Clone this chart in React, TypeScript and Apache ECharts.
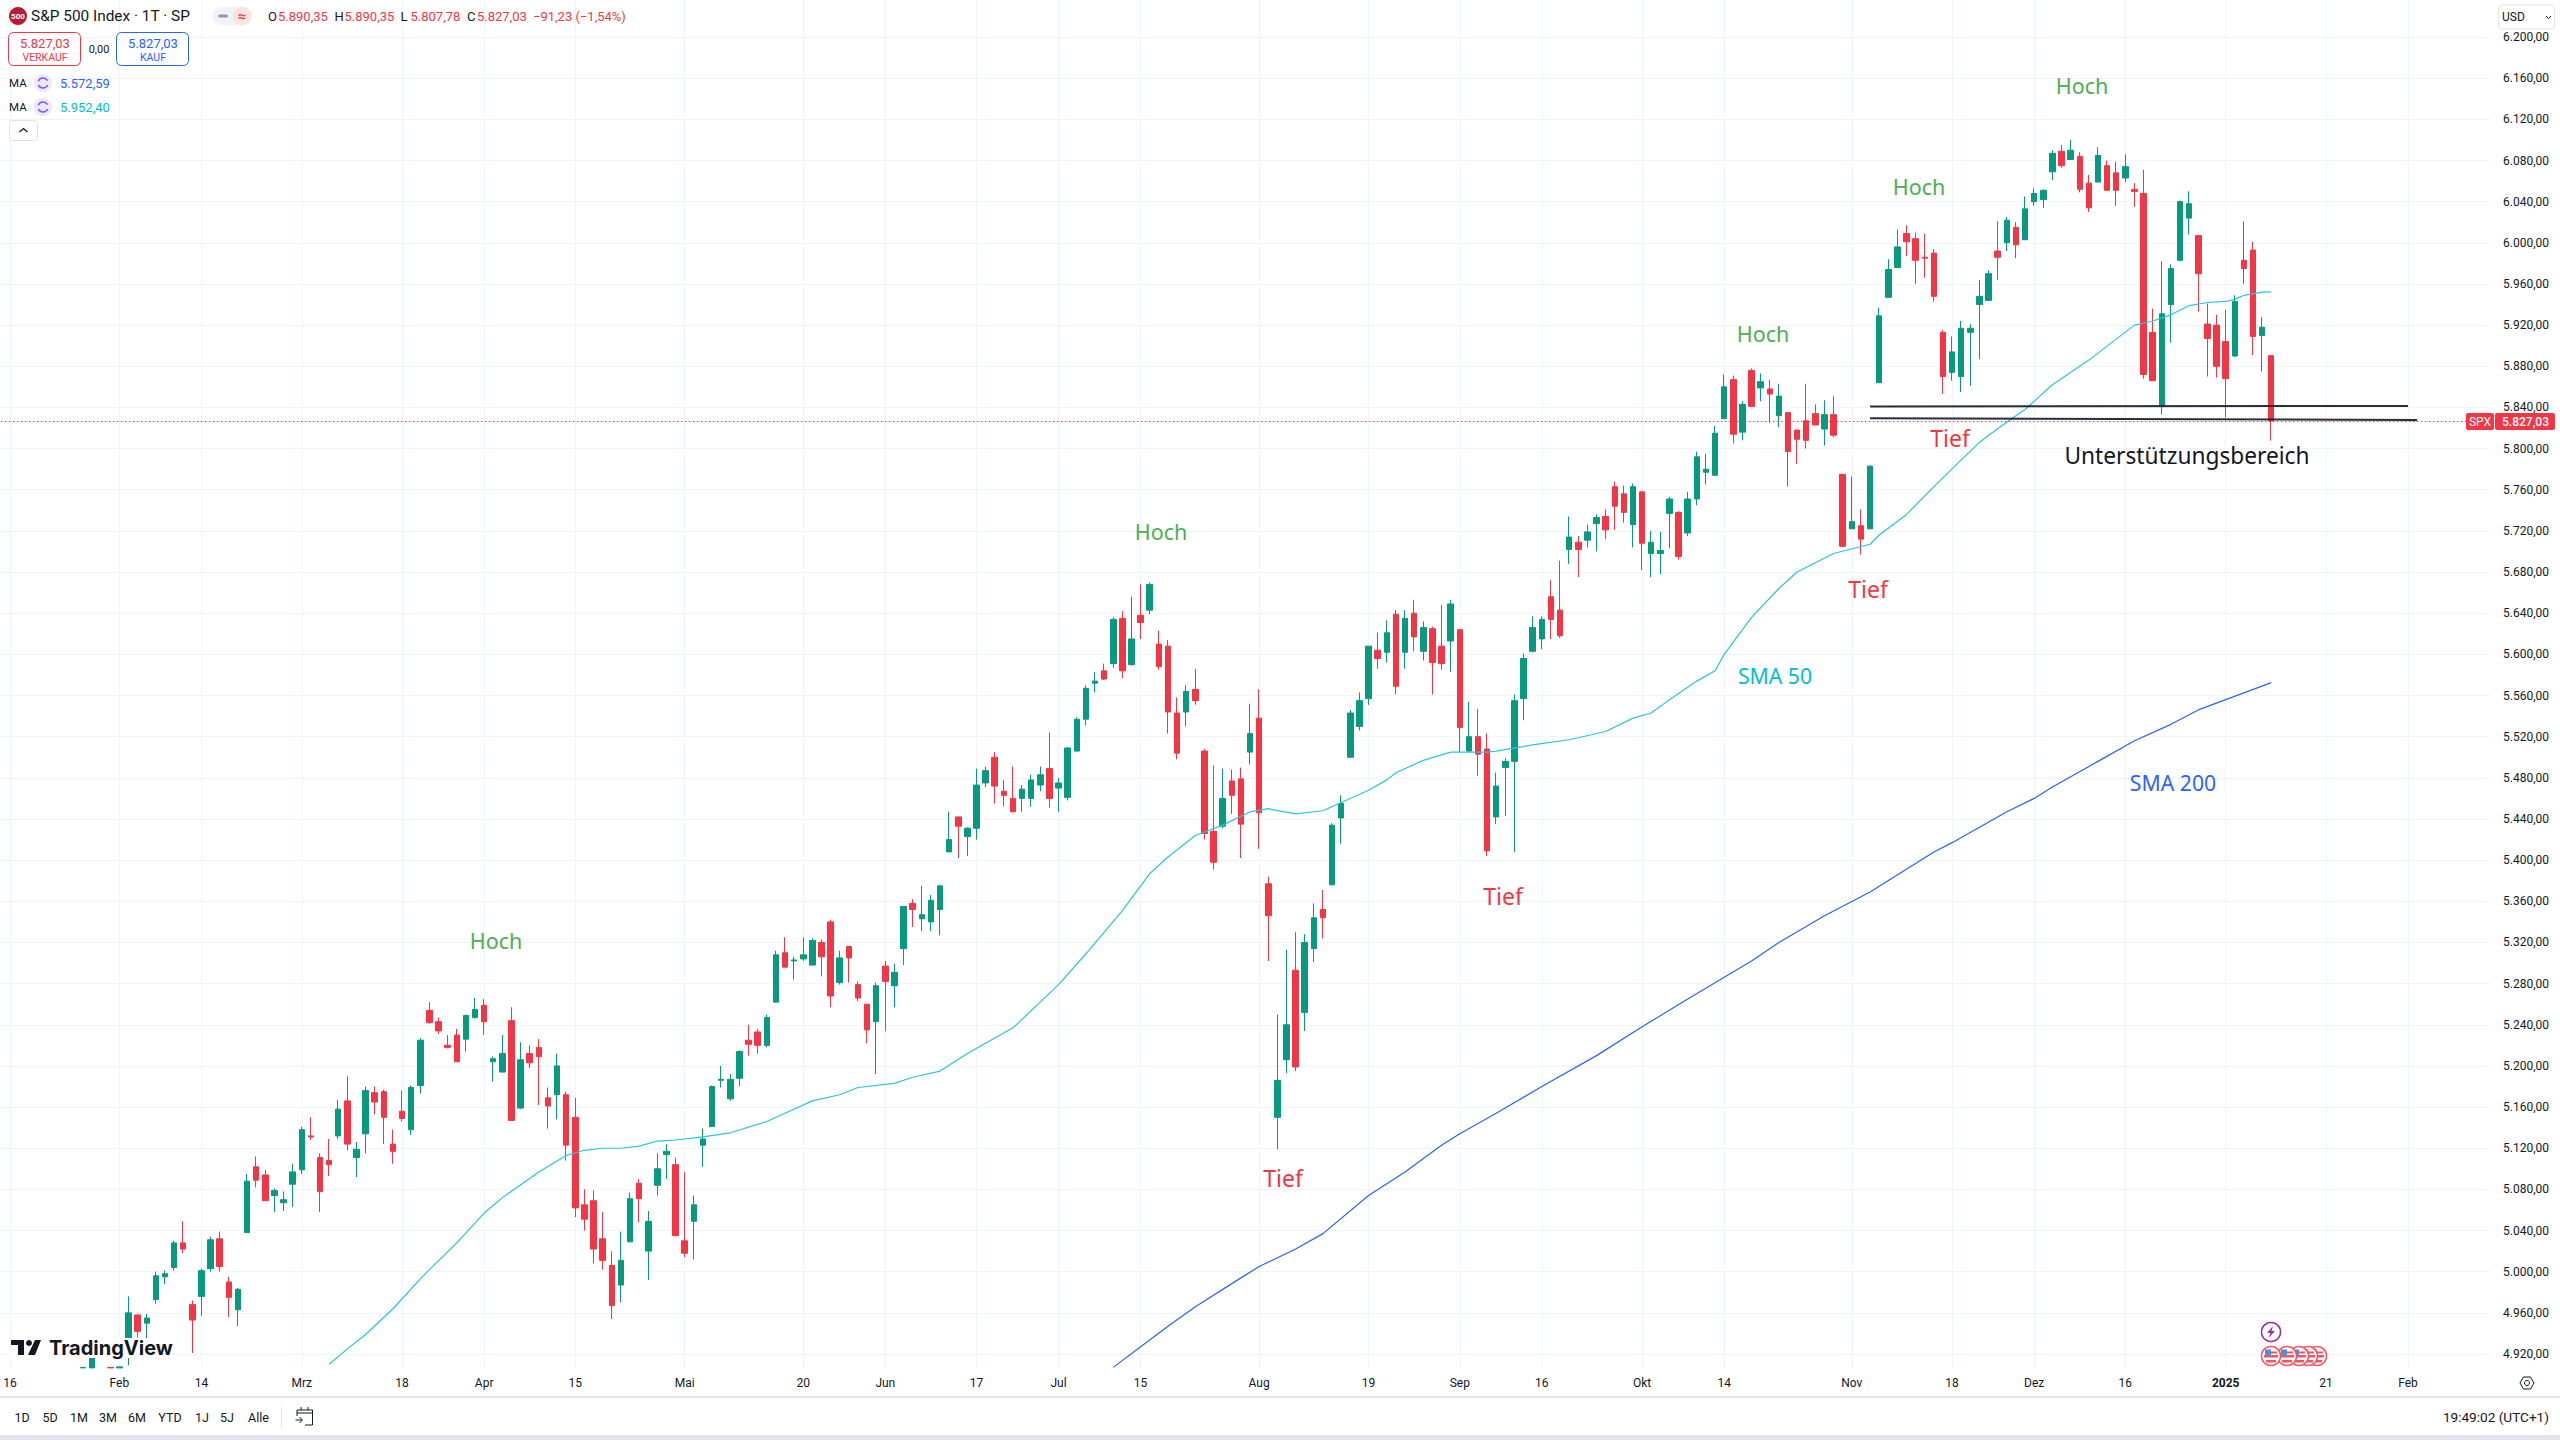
import React, { useEffect, useRef } from "react";
import * as echarts from "echarts";

const tradingDays: [string, number[]][] = [
  ["2024-01", [12,16,17,18,19,22,23,24,25,26,29,30,31]],
  ["2024-02", [1,2,5,6,7,8,9,12,13,14,15,16,20,21,22,23,26,27,28,29]],
  ["2024-03", [1,4,5,6,7,8,11,12,13,14,15,18,19,20,21,22,25,26,27,28]],
  ["2024-04", [1,2,3,4,5,8,9,10,11,12,15,16,17,18,19,22,23,24,25,26,29,30]],
  ["2024-05", [1,2,3,6,7,8,9,10,13,14,15,16,17,20,21,22,23,24,28,29,30,31]],
  ["2024-06", [3,4,5,6,7,10,11,12,13,14,17,18,20,21,24,25,26,27,28]],
  ["2024-07", [1,2,3,5,8,9,10,11,12,15,16,17,18,19,22,23,24,25,26,29,30,31]],
  ["2024-08", [1,2,5,6,7,8,9,12,13,14,15,16,19,20,21,22,23,26,27,28,29,30]],
  ["2024-09", [3,4,5,6,9,10,11,12,13,16,17,18,19,20,23,24,25,26,27,30]],
  ["2024-10", [1,2,3,4,7,8,9,10,11,14,15,16,17,18,21,22,23,24,25,28,29,30,31]],
  ["2024-11", [1,4,5,6,7,8,11,12,13,14,15,18,19,20,21,22,25,26,27,29]],
  ["2024-12", [2,3,4,5,6,9,10,11,12,13,16,17,18,19,20,23,24,26,27,30,31]],
  ["2025-01", [2,3,6,7,8,10,13,14,15,16,17,21,22,23,24,27,28,29,30,31]],
  ["2025-02", [3,4,5,6,7,10,11,12,13,14]],
];
const categories: string[] = tradingDays.flatMap(([m, ds]) =>
  ds.map((d) => `${m}-${String(d).padStart(2, "0")}`)
);

const xTickLabels: Record<string, string> = {
  "2024-01-16": "16", "2024-02-01": "Feb", "2024-02-14": "14", "2024-03-01": "Mrz",
  "2024-03-18": "18", "2024-04-01": "Apr", "2024-04-15": "15", "2024-05-01": "Mai",
  "2024-05-20": "20", "2024-06-03": "Jun", "2024-06-17": "17", "2024-07-01": "Jul",
  "2024-07-15": "15", "2024-08-01": "Aug", "2024-08-19": "19", "2024-09-03": "Sep",
  "2024-09-16": "16", "2024-10-01": "Okt", "2024-10-14": "14", "2024-11-01": "Nov",
  "2024-11-18": "18", "2024-12-02": "Dez", "2024-12-16": "16", "2025-01-02": "2025",
  "2025-01-21": "21", "2025-02-03": "Feb",
};

const yTicks: number[] = [
  4920,4960,5000,5040,5080,5120,5160,5200,5240,5280,5320,5360,5400,5440,5480,5520,5560,5600,
  5640,5680,5720,5760,5800,5840,5880,5920,5960,6000,6040,6080,6120,6160,6200,
];

const E: any = ["-", "-", "-", "-"];
const offscreenBars = [E, E, E, E, E, E, E, E, E];

// open, close, low, high (bars cut by the bottom edge carry only the part that can be read)
const ohlc: any[] = [
  ...offscreenBars,
  [4906.5,4907,4906.5,4907],[4906.5,4927,4906.5,4931],[4925,4924,4917,4931],[4907,4906.5,4906.5,4907],[4906.5,4907.5,4906.5,4907.5],
  [4917,4960,4909,4976],[4958,4942,4936,4958],[4950,4955,4935,4959],[4973,4996,4969,5000],[4995,4998,4988,5001],
  [5004,5028,5001,5030],[5028,5022,5018,5049],[4968,4953,4921,4972],[4976,5001,4957,5003],[5003,5031,5000,5034],
  [5032,5005,5000,5039],[4990,4975,4956,4995],[4963,4983,4947,4984],[5038,5088,5038,5095],[5102,5089,5082,5112],
  [5094,5069,5069,5099],[5074,5079,5058,5081],[5067,5070,5059,5078],[5085,5097,5063,5105],[5099,5138,5095,5141],
  [5132,5131,5128,5150],[5111,5078,5058,5115],[5108,5104,5093,5129],[5132,5158,5129,5167],[5166,5124,5118,5190],
  [5111,5119,5092,5126],[5134,5176,5115,5180],[5174,5165,5153,5180],[5175,5150,5124,5177],[5124,5117,5105,5138],
  [5156,5149,5146,5176],[5138,5179,5133,5181],[5181,5225,5173,5227],[5254,5242,5241,5262],[5243,5234,5231,5247],
  [5220,5218,5217,5230],[5230,5204,5204,5236],[5226,5249,5214,5250],[5247,5255,5246,5266],[5259,5243,5230,5265],
  [5204,5207,5185,5209],[5194,5212,5194,5230],[5244,5147,5147,5257],[5159,5206,5158,5223],[5212,5203,5198,5220],
  [5218,5209,5162,5226],[5169,5161,5139,5179],[5172,5200,5148,5212],[5172,5123,5108,5175],[5150,5062,5053,5169],
  [5065,5051,5040,5080],[5069,5022,5008,5079],[5032,5011,5002,5058],[5006,4967,4954,5020],[4987,5011,4970,5039],
  [5029,5071,5029,5077],[5086,5071,5048,5090],[5020,5049,4992,5059],[5084,5100,5074,5115],[5114,5117,5090,5124],
  [5104,5035,5035,5111],[5030,5018,5014,5097],[5049,5065,5012,5074],[5123,5129,5102,5139],[5141,5180,5141,5181],
  [5186,5187,5179,5200],[5168,5187,5166,5192],[5188,5214,5180,5215],[5225,5221,5210,5240],[5233,5220,5212,5236],
  [5220,5247,5218,5250],[5262,5308,5262,5312],[5310,5296,5296,5325],[5302,5303,5284,5306],[5304,5308,5302,5325],
  [5298,5322,5298,5324],[5320,5306,5287,5323],[5340,5268,5257,5342],[5281,5305,5279,5312],[5316,5305,5281,5316],
  [5279,5266,5263,5282],[5260,5235,5222,5260],[5243,5278,5192,5281],[5297,5282,5234,5302],[5278,5291,5257,5299],
  [5314,5355,5298,5355],[5358,5352,5335,5362],[5343,5347,5331,5375],[5340,5361,5331,5366],[5352,5375,5327,5376],
  [5408,5420,5408,5447],[5442,5433,5402,5442],[5423,5431,5404,5432],[5431,5473,5420,5489],[5475,5487,5471,5491],
  [5500,5472,5455,5505],[5467,5463,5452,5478],[5460,5447,5447,5491],[5460,5469,5447,5473],[5460,5478,5452,5483],
  [5473,5483,5467,5491],[5489,5460,5451,5524],[5470,5475,5447,5480],[5461,5509,5458,5510],[5506,5537,5506,5539],
  [5537,5567,5531,5570],[5572,5574,5563,5583],[5584,5576,5575,5591],[5591,5634,5587,5636],[5635,5584,5577,5642],
  [5590,5615,5589,5656],[5638,5631,5615,5668],[5643,5668,5639,5670],[5610,5588,5585,5623],[5608,5544,5523,5614],
  [5543,5504,5498,5558],[5544,5564,5530,5570],[5566,5555,5551,5586],[5506,5426,5420,5508],[5428,5398,5391,5492],
  [5433,5460,5431,5489],[5477,5463,5445,5488],[5479,5435,5402,5490],[5505,5523,5493,5552],[5538,5446,5411,5566],
  [5377,5346,5302,5384],[5150,5186,5119,5250],[5206,5240,5193,5313],[5293,5199,5195,5330],[5252,5320,5234,5328],
  [5314,5344,5301,5358],[5352,5344,5324,5371],[5376,5434,5376,5436],[5441,5455,5416,5463],[5500,5543,5500,5546],
  [5530,5555,5526,5563],[5557,5608,5551,5608],[5604,5596,5586,5621],[5602,5621,5592,5633],[5639,5569,5561,5643],
  [5602,5635,5586,5643],[5640,5617,5603,5653],[5603,5626,5594,5632],[5625,5592,5561,5627],[5608,5591,5585,5648],
  [5613,5649,5583,5653],[5624,5529,5505,5624],[5506,5520,5505,5554],[5520,5503,5482,5547],[5508,5409,5404,5523],
  [5442,5472,5435,5485],[5490,5496,5443,5499],[5496,5555,5408,5561],[5557,5596,5536,5601],[5603,5626,5602,5637],
  [5615,5634,5605,5637],[5656,5634,5615,5672],[5643,5618,5616,5691],[5702,5714,5688,5734],[5709,5702,5675,5715],
  [5711,5719,5704,5726],[5727,5733,5700,5736],[5734,5721,5712,5741],[5763,5744,5721,5768],[5756,5738,5728,5764],
  [5726,5763,5704,5766],[5758,5708,5682,5758],[5698,5709,5675,5720],[5698,5701,5678,5719],[5737,5751,5703,5753],
  [5738,5695,5692,5739],[5718,5751,5715,5758],[5751,5792,5745,5797],[5777,5780,5765,5795],[5774,5815,5774,5822],
  [5829,5860,5829,5872],[5867,5814,5805,5871],[5816,5843,5808,5846],[5876,5841,5841,5878],[5859,5865,5846,5873],
  [5858,5853,5825,5867],[5832,5851,5821,5863],[5835,5797,5763,5835],[5818,5809,5785,5818],[5827,5808,5800,5863],
  [5834,5823,5823,5843],[5819,5833,5803,5847],[5833,5813,5811,5851],[5775,5705,5704,5775],[5722,5729,5722,5773],
  [5725,5712,5697,5741],[5722,5783,5722,5783],[5864,5929,5864,5937],[5947,5974,5947,5984],[5976,5996,5976,6013],
  [6009,6001,5987,6017],[6004,5983,5960,6010],[5986,5985,5966,6009],[5990,5948,5943,5994],[5913,5870,5853,5915],
  [5874,5894,5866,5909],[5870,5917,5855,5924],[5913,5917,5861,5921],[5940,5948,5887,5964],[5944,5970,5944,5973],
  [5992,5986,5964,6021],[6000,6022,5992,6025],[6015,5998,5985,6020],[6003,6033,6003,6045],[6040,6048,6036,6053],
  [6042,6051,6034,6052],[6069,6087,6061,6090],[6089,6075,6073,6095],[6081,6090,6081,6100],[6084,6052,6049,6088],
  [6058,6034,6030,6066],[6059,6085,6059,6093],[6075,6051,6051,6080],[6068,6051,6036,6079],[6063,6074,6059,6086],
  [6052,6050,6035,6058],[6048,5872,5868,6071],[5913,5866,5866,5936],[5842,5931,5833,5982],[5940,5975,5903,5979],
  [5983,6040,5982,6041],[6024,6038,6008,6050],[6007,5970,5933,6007],[5921,5907,5870,5941],[5920,5880,5869,5930],
  [5904,5868,5830,5935],[5890,5943,5889,5949],[5983,5975,5960,6021],[5993,5909,5891,6001],[5910,5918,5875,5928],
  [5890.35,5827.03,5807.78,5890.35],
];

// [bar number counted from the first labelled bar, value]
const sma50Readings: [number, number][] = [
  [35,4910],[37,4925],[39,4939],[42,4964],[45,4993],[46,5002],[49,5028],[52,5057],[54,5072],[58,5097],
  [61,5113],[63,5118],[65,5120],[67,5120],[69,5122],[71,5127],[73,5128],[76,5131],[79,5135],[83,5146],
  [85,5154],[88,5166],[91,5172],[93,5179],[97,5183],[99,5189],[102,5195],[105,5212],[110,5237],[115,5279],
  [118,5309],[122,5351],[125,5387],[127,5403],[130,5424],[133,5434],[136,5447],[138,5450],[141,5445],[144,5448],
  [146,5456],[149,5468],[151,5478],[152,5485],[155,5497],[158,5505],[162,5505],[163,5506],[167,5512],[171,5517],
  [175,5525],[178,5538],[180,5543],[182,5556],[185,5574],[187,5584],[188,5600],[191,5636],[194,5664],[196,5680],
  [200,5698],[204,5707],[205,5716],[208,5736],[211,5763],[214,5789],[216,5806],[217,5813],[220,5832],[221,5838],
  [224,5862],[228,5886],[233,5920],[235,5924],[237,5930],[239,5939],[241,5942],[243,5943],[244,5945],[245,5949],
  [247,5952],[248,5952.4],
];
const sma200Readings: [number, number][] = [
  [121,4907],[124,4927],[127,4947],[130,4966],[135,4994],[137,5005],[141,5022],[144,5037],[149,5074],[153,5097],
  [157,5123],[159,5134],[163,5154],[168,5180],[174,5210],[179,5238],[184,5265],[191,5302],[194,5320],[199,5346],
  [204,5369],[211,5408],[213,5417],[219,5447],[222,5460],[224,5471],[229,5496],[233,5516],[237,5532],[240,5546],
  [243,5556],[248,5572.59],
];

const upperBandStart = 5841;
const upperBandEnd = 5841.5;
const lowerBandStart = 5829.5;
const lowerBandEnd = 5827.8;
const lastPrice = 5827.03;

const hochLabels = ["Hoch", "Hoch", "Hoch", "Hoch", "Hoch"];
const tiefLabels = ["Tief", "Tief", "Tief", "Tief"];
const periodButtons = ["1D", "5D", "1M", "3M", "6M", "YTD", "1J", "5J", "Alle"];

const UP = "#089981";
const DOWN = "#f23645";
const INK = "#131722";
const FONT = "Roboto, sans-serif";
const NOTE = "'Noto Sans', sans-serif";

const fmt = (v: number) =>
  v.toLocaleString("de-DE", { minimumFractionDigits: 2, maximumFractionDigits: 2 });

const fromReadings = (pts: [number, number][]) => {
  const out: any[] = categories.map(() => "-");
  pts.forEach(([i, v]) => (out[i + 1] = v));
  return out;
};

const txt = (
  text: string, x: number, y: number, size: number, fill: string,
  align: string = "left", weight: number = 400, family: string = FONT
) => ({
  type: "text", z: 50,
  style: { text, x, y, fill, textAlign: align, textVerticalAlign: "middle", font: `${weight} ${size}px ${family}` },
});
const box = (x: number, y: number, width: number, height: number, fill: string, stroke?: string, r = 0) => ({
  type: "rect", z: 40, shape: { x, y, width, height, r },
  style: { fill, stroke: stroke ?? "none", lineWidth: stroke ? 1 : 0 },
});

function buildGraphics() {
  const g: any[] = [];
  // header
  g.push({ type: "circle", z: 40, shape: { cx: 18, cy: 16, r: 9 }, style: { fill: "#b71c32" } });
  g.push(txt("500", 18, 16.5, 8, "#ffffff", "center", 700));
  g.push(txt("S&P 500 Index · 1T · SP", 31, 16, 15.4, INK));
  g.push(box(212, 7, 40, 18, "#f0f3fa", undefined, 9));
  g.push(box(232, 7, 20, 18, "#fde3e6", undefined, 9));
  g.push(box(218, 14.5, 10, 3, "#9598a1", undefined, 1.5));
  g.push(txt("≈", 242, 15.5, 14, "#f23645", "center", 700));
  const ohlcHead: [string, string, number][] = [
    ["O", "5.890,35", 268], ["H", "5.890,35", 334.5], ["L", "5.807,78", 400.5], ["C", "5.827,03", 467],
  ];
  ohlcHead.forEach(([k, v, x]) => {
    g.push(txt(k, x, 16, 13, INK));
    g.push(txt(v, x + 10, 16, 13, DOWN));
  });
  g.push(txt("−91,23 (−1,54%)", 533, 16, 13, DOWN));
  g.push(box(8.5, 32.5, 72, 33, "#ffffff", DOWN, 5));
  g.push(txt("5.827,03", 45, 43, 13, DOWN, "center"));
  g.push(txt("VERKAUF", 45, 57, 10.5, DOWN, "center"));
  g.push(txt("0,00", 99, 49.5, 11, INK, "center"));
  g.push(box(116.5, 32.5, 72, 33, "#ffffff", "#2962ff", 5));
  g.push(txt("5.827,03", 153, 43, 13, "#2962ff", "center"));
  g.push(txt("KAUF", 153, 57, 10.5, "#2962ff", "center"));
  const maRows: [number, string, string][] = [
    [83, "5.572,59", "#2962ff"], [107, "5.952,40", "#00bcd4"],
  ];
  maRows.forEach(([y, v, c]) => {
    g.push(txt("MA", 9, y, 11.5, INK));
    g.push({ type: "circle", z: 40, shape: { cx: 43, cy: y, r: 9 }, style: { fill: "#ede7f6" } });
    g.push({ type: "arc", z: 41, shape: { cx: 43, cy: y, r: 5, startAngle: 3.5, endAngle: 5.8 }, style: { stroke: "#7e57ff", fill: "none", lineWidth: 1.5 } });
    g.push({ type: "arc", z: 41, shape: { cx: 43, cy: y, r: 5, startAngle: 0.4, endAngle: 2.7 }, style: { stroke: "#7e57ff", fill: "none", lineWidth: 1.5 } });
    g.push(txt(v, 60, y, 13, c));
  });
  g.push(box(9.5, 120.5, 28, 20, "#ffffff", "#e0e3eb", 3));
  g.push({ type: "polyline", z: 41, shape: { points: [[19.5, 132], [23.5, 128.5], [27.5, 132]] }, style: { stroke: INK, fill: "none", lineWidth: 1.3 } });

  // price axis widgets
  g.push(box(2498.5, 5, 56, 24, "#ffffff", "#e0e3eb", 4));
  g.push(txt("USD", 2502, 16.5, 12, INK));
  g.push({ type: "polyline", z: 41, shape: { points: [[2546, 16], [2548.5, 18.5], [2551, 16]] }, style: { stroke: INK, fill: "none", lineWidth: 1 } });
  g.push(box(2466, 413, 28, 17, DOWN, undefined, 2));
  g.push(txt("SPX", 2480, 421.8, 12, "#ffffff", "center"));
  g.push(box(2495, 413, 60, 17, DOWN, undefined, 2));
  g.push(txt(fmt(lastPrice), 2549, 421.8, 12, "#ffffff", "right", 500));

  // annotations
  const hochAt: [number, number][] = [[496, 940], [1161, 531], [1763, 333], [1919, 186], [2082, 85]];
  hochLabels.forEach((t, i) => g.push(txt(t, hochAt[i][0], hochAt[i][1], 21.5, "#4caf50", "center", 400, NOTE)));
  const tiefAt: [number, number][] = [[1283, 1178], [1503, 896], [1868, 589], [1950, 438]];
  tiefLabels.forEach((t, i) => g.push(txt(t, tiefAt[i][0], tiefAt[i][1], 23, DOWN, "center", 400, NOTE)));
  g.push(txt("SMA 50", 1775, 675, 21.2, "#00bcd4", "center", 400, NOTE));
  g.push(txt("SMA 200", 2173, 782, 21.2, "#2962ff", "center", 400, NOTE));
  g.push(txt("Unterstützungsbereich", 2187, 455, 22.7, INK, "center", 400, NOTE));

  // watermark
  g.push(box(10, 1338, 162, 20, "#ffffff"));
  g.push(box(11, 1340, 13, 5, INK));
  g.push(box(18, 1340, 6, 15, INK));
  g.push({ type: "circle", z: 41, shape: { cx: 29, cy: 1343, r: 3 }, style: { fill: INK } });
  g.push({ type: "polygon", z: 41, shape: { points: [[35, 1340], [41, 1340], [35, 1355], [28, 1355]] }, style: { fill: INK } });
  g.push(txt("TradingView", 49, 1347.5, 20, INK, "left", 700, "Inter, sans-serif"));

  // event markers
  g.push({ type: "circle", z: 45, shape: { cx: 2271, cy: 1332, r: 9.5 }, style: { fill: "#ffffff", stroke: "#9c27b0", lineWidth: 1.5 } });
  g.push({ type: "polygon", z: 46, shape: { points: [[2273, 1326], [2267, 1333], [2270.5, 1333], [2268.5, 1338], [2275, 1331], [2271.5, 1331]] }, style: { fill: "#9c27b0" } });
  [2317, 2308, 2299, 2287, 2271].forEach((cx, k) => {
    const z = 45 + k * 2;
    g.push({ type: "circle", z, shape: { cx, cy: 1356, r: 9.5 }, style: { fill: "#ffffff", stroke: "#f7525f", lineWidth: 1.5 } });
    g.push({ type: "rect", z: z + 1, shape: { x: cx - 7, y: 1355, width: 14, height: 2.5 }, style: { fill: "#f7525f" } });
    g.push({ type: "rect", z: z + 1, shape: { x: cx - 5, y: 1360, width: 10, height: 2.5 }, style: { fill: "#f7525f" } });
    g.push({ type: "rect", z: z + 1, shape: { x: cx, y: 1351.5, width: 6, height: 2 }, style: { fill: "#f7525f" } });
    g.push({ type: "rect", z: z + 1, shape: { x: cx - 6, y: 1349.5, width: 6, height: 6 }, style: { fill: "#4a90e2" } });
  });

  // footer
  g.push(box(0, 1396, 2560, 2, "#e0e3eb"));
  g.push(box(0, 1435, 2560, 5, "#e0e3eb"));
  const periodX = [22, 50, 79, 108, 137, 170, 202, 227, 258.5];
  periodButtons.forEach((t, i) => g.push(txt(t, periodX[i], 1417, 12.5, INK, "center")));
  g.push(box(281, 1407, 1, 21, "#e0e3eb"));
  g.push({ type: "polyline", z: 41, shape: { points: [[297, 1416], [297, 1410], [312.5, 1410], [312.5, 1425], [305, 1425]] }, style: { stroke: INK, fill: "none", lineWidth: 1 } });
  g.push({ type: "line", z: 41, shape: { x1: 297, y1: 1413, x2: 312.5, y2: 1413 }, style: { stroke: INK, lineWidth: 1 } });
  g.push({ type: "line", z: 41, shape: { x1: 301, y1: 1407, x2: 301, y2: 1410 }, style: { stroke: INK, lineWidth: 1 } });
  g.push({ type: "line", z: 41, shape: { x1: 308, y1: 1407, x2: 308, y2: 1410 }, style: { stroke: INK, lineWidth: 1 } });
  g.push({ type: "polyline", z: 41, shape: { points: [[295.5, 1420], [302, 1420]] }, style: { stroke: INK, fill: "none", lineWidth: 1 } });
  g.push({ type: "polyline", z: 41, shape: { points: [[299.5, 1417], [302.5, 1420], [299.5, 1423]] }, style: { stroke: INK, fill: "none", lineWidth: 1 } });
  g.push(txt("19:49:02 (UTC+1)", 2549, 1417, 13.6, INK, "right"));
  g.push({
    type: "polygon", z: 41,
    shape: { points: [[2520, 1383], [2523.5, 1377], [2530.5, 1377], [2534, 1383], [2530.5, 1389], [2523.5, 1389]] },
    style: { stroke: INK, fill: "none", lineWidth: 1 },
  });
  g.push({ type: "circle", z: 41, shape: { cx: 2527, cy: 1383, r: 2.5 }, style: { stroke: INK, fill: "none", lineWidth: 1 } });
  return g;
}

export default function App() {
  const ref = useRef<HTMLDivElement>(null);
  useEffect(() => {
    const chart = echarts.init(ref.current!, undefined, { renderer: "svg" });
    chart.setOption({
      animation: false,
      backgroundColor: "#ffffff",
      grid: { left: 0.88, top: 0, width: 2489.2, height: 1368, containLabel: false },
      xAxis: {
        type: "category",
        data: categories,
        boundaryGap: false,
        axisLine: { show: false },
        axisTick: { show: false },
        splitLine: {
          show: true,
          interval: (_: number, v: string) => v in xTickLabels,
          lineStyle: { color: "#f0f3fa", width: 1 },
        },
        axisLabel: {
          show: true,
          interval: (_: number, v: string) => v in xTickLabels,
          margin: 9,
          color: INK,
          fontFamily: FONT,
          fontSize: 12,
          hideOverlap: false,
          formatter: (v: string) =>
            xTickLabels[v] === "2025" ? "{b|2025}" : xTickLabels[v] ?? "",
          rich: { b: { fontWeight: 700, fontSize: 12, fontFamily: FONT, color: INK } },
        },
      },
      yAxis: {
        type: "value",
        position: "right",
        min: 4906.4,
        max: 6236,
        axisLine: { show: false },
        axisTick: { show: false, customValues: yTicks },
        splitLine: { show: true, customValues: yTicks, lineStyle: { color: "#f0f3fa", width: 1 } },
        axisLabel: {
          customValues: yTicks,
          margin: 13,
          color: INK,
          fontFamily: FONT,
          fontSize: 12,
          formatter: (v: number) => fmt(v),
        },
      },
      series: [
        {
          type: "candlestick",
          data: ohlc,
          barWidth: 6,
          z: 3,
          itemStyle: { color: UP, color0: DOWN, borderColor: UP, borderColor0: DOWN, borderWidth: 1 },
          markLine: {
            silent: true,
            symbol: "none",
            animation: false,
            label: { show: false },
            z: 6,
            data: [
              { yAxis: lastPrice, lineStyle: { color: DOWN, type: [1.5, 2.5], width: 1 } },
              [
                { coord: ["2024-11-05", upperBandStart], lineStyle: { color: INK, type: "solid", width: 2, opacity: 0.9 } },
                { coord: ["2025-02-03", upperBandEnd] },
              ],
              [
                { coord: ["2024-11-05", lowerBandStart], lineStyle: { color: INK, type: "solid", width: 2, opacity: 0.9 } },
                { coord: ["2025-02-04", lowerBandEnd] },
              ],
            ],
          },
        },
        {
          type: "line", name: "SMA 50", data: fromReadings(sma50Readings), connectNulls: true,
          showSymbol: false, symbol: "none", z: 4,
          lineStyle: { color: "#26c6da", width: 1.2 },
        },
        {
          type: "line", name: "SMA 200", data: fromReadings(sma200Readings), connectNulls: true,
          showSymbol: false, symbol: "none", z: 4,
          lineStyle: { color: "#2962ff", width: 1.2 },
        },
      ],
      graphic: { elements: buildGraphics() },
    });
    return () => chart.dispose();
  }, []);
  return (
    <div
      ref={ref}
      style={{ position: "fixed", left: 0, top: 0, width: 2560, height: 1440, background: "#fff" }}
    />
  );
}
